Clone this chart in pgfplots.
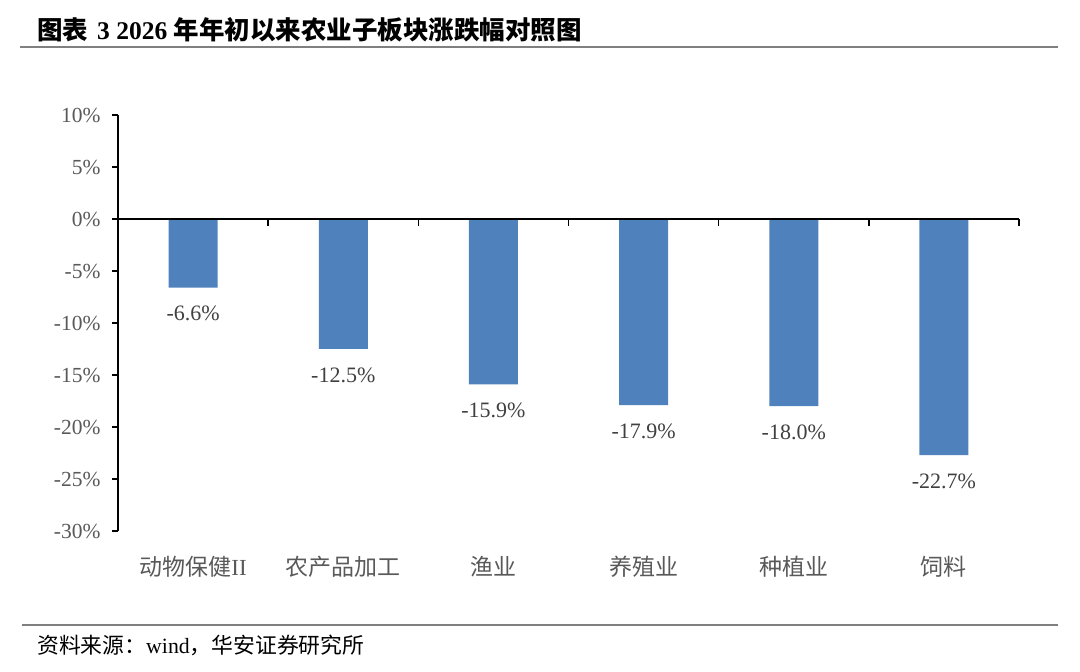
\documentclass[border=0pt]{standalone}
\usepackage{pgfplots}
\pgfplotsset{compat=1.18}
\usepackage{fontspec}
\setmainfont{Liberation Serif}
\newfontfamily\cjk{Noto Sans CJK SC}
\definecolor{barblue}{HTML}{4F81BD}
\definecolor{ticktxt}{HTML}{595959}
\definecolor{valtxt}{HTML}{404040}
\definecolor{rulegray}{HTML}{808080}
\pgfplotstableread{
x y
0.5 -6.6
1.5 -12.5
2.5 -15.9
3.5 -17.9
4.5 -18.0
5.5 -22.7
}\datatab
\begin{document}
\begin{tikzpicture}
\path[use as bounding box] (0pt,0pt) rectangle (1080pt,672pt);
% title
\node[anchor=west,inner sep=0pt] at (37pt,642pt) {\fontsize{25.5}{28}\selectfont\bfseries{\cjk 图表}\hspace{9pt}3 2026 {\cjk 年年初以来农业子板块涨跌幅对照图}};
\draw[rulegray,line width=1.6pt] (20pt,625pt) -- (1058pt,625pt);
% footer
\draw[rulegray,line width=1.4pt] (22pt,47pt) -- (1058pt,47pt);
\node[anchor=west,inner sep=0pt] at (37pt,27pt) {\fontsize{21.8}{24}\selectfont{\cjk 资料来源：}wind{\cjk ，华安证券研究所}};
\begin{axis}[
  at={(118pt,141pt)}, anchor=south west,
  scale only axis, width=901pt, height=416pt,
  xmin=0, xmax=6, ymin=-30, ymax=10,
  axis y line*=left, axis x line*=bottom,
  x axis line style={draw=none},
  y axis line style={-, line width=1.4pt},
  xtick={0.5,1.5,2.5,3.5,4.5,5.5},
  xticklabels={{动物保健\normalfont II},农产品加工,渔业,养殖业,种植业,饲料},
  xtick style={draw=none},
  xticklabel style={font=\cjk\fontsize{23}{26}\selectfont, text=ticktxt, anchor=center, yshift=-30pt},
  ytick={-30,-25,...,10},
  ytick style={line width=1.4pt, black},
  tick align=outside,
  major tick length=6pt,
  yticklabel={\pgfmathprintnumber{\tick}\%},
  yticklabel style={font=\fontsize{21.5}{24}\selectfont, text=ticktxt, /pgf/number format/assume math mode=true, xshift=-8pt},
  ybar, bar width=49pt,
  nodes near coords={\pgfmathprintnumber[fixed,fixed zerofill,precision=1,assume math mode=true]{\pgfplotspointmeta}\%},
  nodes near coords style={font=\fontsize{22}{24}\selectfont, text=valtxt, anchor=center, yshift=-26pt},
  clip=false,
]
\addplot[fill=barblue, draw=none] table[x=x,y=y] {\datatab};
\end{axis}
\begin{axis}[
  at={(118pt,141pt)}, anchor=south west,
  scale only axis, width=901pt, height=416pt,
  xmin=0, xmax=6, ymin=-30, ymax=10,
  axis x line=middle, axis y line=none,
  x axis line style={-, line width=1.4pt},
  xtick={1,2,3,4,5,6}, xticklabels={},
  xtick style={line width=1.4pt, black},
  tick align=outside, major tick length=7pt,
]
\addplot[draw=none] coordinates {(0,0)};
\end{axis}
\end{tikzpicture}
\end{document}
